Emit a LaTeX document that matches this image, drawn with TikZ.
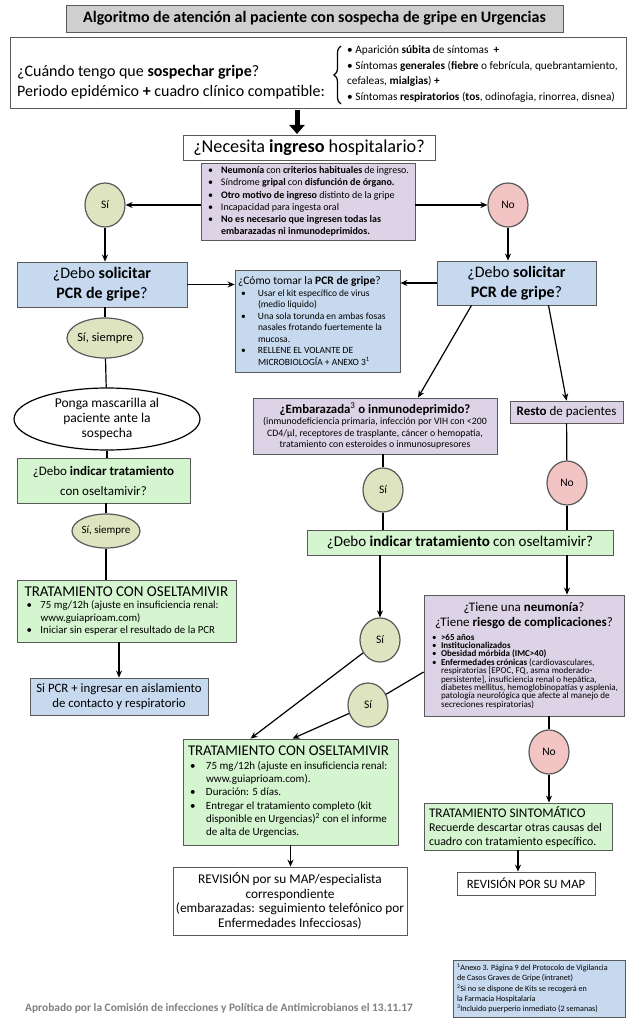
\documentclass[tikz,border=0pt]{standalone}
\usepackage{fontspec}
\setmainfont{Carlito}
\usetikzlibrary{arrows.meta,shapes.geometric,decorations.pathreplacing}
\definecolor{azul}{HTML}{C6D9EE}
\definecolor{lila}{HTML}{DCD4E6}
\definecolor{verde}{HTML}{D5F4D0}
\definecolor{oliva}{HTML}{DEE4BF}
\definecolor{rosa}{HTML}{F2C4C4}
\definecolor{gris}{HTML}{CFCFCF}
\definecolor{borde}{HTML}{5A5A5A}
\newcommand{\bul}[3][1pt]{\par\hangindent=#2\hangafter=1\noindent\hbox to #2{\hskip#1\textbullet\hfil}#3}
\newcommand{\lista}[2]{\begin{minipage}{#1}\raggedright\setlength{\parskip}{0pt}#2\end{minipage}}
\tikzset{
  caja/.style={draw=borde, line width=0.8pt, inner sep=0pt, align=center},
  dim/.style 2 args={minimum width=#1, minimum height=#2},
  si/.style={ellipse, draw=borde, line width=1.2pt, fill=oliva, minimum width=40, minimum height=44, inner sep=0pt, font=\fontsize{11.5}{13}\selectfont},
  no/.style={si, fill=rosa},
  flecha/.style={line width=1.2pt, -{Stealth[length=7pt,width=6pt]}},
  linea/.style={line width=1.2pt},
}
\begin{document}
\begin{tikzpicture}[x=1pt,y=-1pt]
\useasboundingbox (0,0) rectangle (634,1024);
\fill[white] (0,0) rectangle (634,1024);
\node[caja, fill=gris, dim={497}{27}, font=\fontsize{16}{18}\selectfont\bfseries] (titulo) at (314.5,18.5) {Algoritmo de atención al paciente con sospecha de gripe en Urgencias};
\node[caja, dim={616}{71}] (sospecha) at (318,72.5) {};
\node[anchor=west, align=left, inner sep=0pt, font=\fontsize{16}{20}\selectfont] (pregunta) at (17,82) {¿Cuándo tengo que \textbf{sospechar gripe}?\\Periodo epidémico \textbf{+} cuadro clínico compatible:};
\node[anchor=west, align=left, inner sep=0pt, font=\fontsize{11.3}{15.7}\selectfont] (sintomas) at (347,74) {\textbullet{} Aparición \textbf{súbita} de síntomas\ \ \textbf{+}\\\textbullet{} Síntomas \textbf{generales} (\textbf{fiebre} o febrícula, quebrantamiento,\\cefaleas, \textbf{mialgias}) \textbf{+}\\\textbullet{} Síntomas \textbf{respiratorios} (\textbf{tos}, odinofagia, rinorrea, disnea)};
\draw[line width=1.2pt, decorate, decoration={brace, amplitude=7pt}] (341,104) -- (341,46);
\coordinate (bajada) at (297,110);
\draw[line width=5pt, -{Triangle[length=9pt,width=15pt]}] (bajada) -- (bajada |- 0,134);
\node[caja, fill=white, dim={252}{25}, font=\fontsize{18.2}{20}\selectfont] (ingreso) at (309,147.5) {¿Necesita \textbf{ingreso} hospitalario?};
\node[caja, fill=lila, inner xsep=6pt, minimum height=77, font=\fontsize{10}{12.2}\selectfont] (criterios) at (308,201.5) {\lista{202pt}{\bul{14pt}{\textbf{Neumonía} con \textbf{criterios habituales} de ingreso.}\bul{14pt}{Síndrome \textbf{gripal} con \textbf{disfunción de órgano.}}\bul{14pt}{\textbf{Otro motivo de ingreso} distinto de la gripe}\bul{14pt}{Incapacidad para ingesta oral}\bul{14pt}{\textbf{No es necesario que ingresen todas las\newline embarazadas ni inmunodeprimidos.}}}};
\node[si] (siA) at (105,205) {Sí};
\node[no] (noA) at (508,205) {No};
\node[caja, fill=azul, dim={170}{45}, font=\fontsize{16}{20}\selectfont] (pcrL) at (102,284.5) {¿Debo \textbf{solicitar}\\\textbf{PCR de gripe}?};
\node[caja, fill=azul, dim={159}{44}, font=\fontsize{16}{20}\selectfont] (pcrR) at (516.5,283) {¿Debo \textbf{solicitar}\\\textbf{PCR de gripe}?};
\node[caja, fill=azul, inner xsep=3pt, minimum height=102, font=\fontsize{9.5}{11.5}\selectfont] (pcrinfo) at (317.5,321) {\lista{159pt}{{\fontsize{11.5}{13}\selectfont ¿Cómo tomar la \textbf{PCR de gripe}?\par}\bul[3pt]{20pt}{Usar el kit específico de virus\newline (medio liquido)}\bul[3pt]{20pt}{Una sola torunda en ambas fosas\newline nasales frotando fuertemente la\newline mucosa.}\bul[3pt]{20pt}{RELLENE EL VOLANTE DE\newline MICROBIOLOGÍA + ANEXO 3\textsuperscript{1}}}};
\node[si, minimum width=76, minimum height=40] (siempreA) at (105,338) {\makebox[0pt]{\fontsize{12.5}{14}\selectfont Sí, siempre}};
\node[ellipse, draw=black, line width=1.2pt, fill=white, dim={186}{62}, inner sep=0pt, align=center, font=\fontsize{13.5}{15}\selectfont] (mascarilla) at (107,419) {Ponga mascarilla al\\paciente ante la\\sospecha};
\node[caja, fill=verde, dim={173}{45}, font=\fontsize{13}{20}\selectfont] (indicarL) at (103.5,480.5) {¿Debo \textbf{indicar tratamiento}\\con oseltamivir?};
\node[si, minimum width=68, minimum height=34] (siempreB) at (106,531) {\makebox[0pt]{\fontsize{11}{13}\selectfont Sí, siempre}};
\node[caja, fill=verde, inner xsep=7pt, minimum height=62, font=\fontsize{10.8}{12.5}\selectfont] (tratL) at (127,611) {\lista{205pt}{{\fontsize{15}{16}\selectfont TRATAMIENTO CON OSELTAMIVIR\par}\bul[2pt]{16pt}{75 mg/12h (ajuste en insuficiencia renal:\newline www.guiaprioam.com)}\bul[2pt]{16pt}{Iniciar sin esperar el resultado de la PCR}}};
\node[caja, fill=azul, dim={178}{37}, font=\fontsize{12.8}{15}\selectfont] (aislam) at (119,696.5) {Si PCR + ingresar en aislamiento\\de contacto y respiratorio};
\node[caja, fill=lila, dim={244}{56}, font=\fontsize{9.8}{11.5}\selectfont] (embarazada) at (375,426) {{\fontsize{12.8}{14}\selectfont\bfseries ¿Embarazada\textsuperscript{\mdseries 3} o inmunodeprimido?}\\(inmunodeficiencia primaria, infección por VIH con <200\\CD4/µl, receptores de trasplante, cáncer o hemopatía,\\tratamiento con esteroides o inmunosupresores};
\node[caja, fill=lila, dim={113}{22}, font=\fontsize{13}{15}\selectfont] (resto) at (566.5,412) {\textbf{Resto} de pacientes};
\node[no] (noB) at (567,483) {No};
\node[si] (siB) at (383,490) {Sí};
\node[caja, fill=verde, dim={306}{25}, font=\fontsize{15}{17}\selectfont] (indicarR) at (460,542.5) {¿Debo \textbf{indicar tratamiento} con oseltamivir?};
\node[si] (siC) at (380,640) {Sí};
\node[si] (siD) at (368,705) {Sí};
\node[caja, fill=lila, inner xsep=6pt, minimum height=121, font=\fontsize{9}{7.9}\selectfont] (neumonia) at (524,655.5) {\lista{188pt}{{\centering\fontsize{13}{15}\selectfont ¿Tiene una \textbf{neumonía}?\\¿Tiene \textbf{riesgo de complicaciones}?\par}\vspace{5pt}\bul[2pt]{11pt}{\textbf{>65 años}}\bul[2pt]{11pt}{\textbf{Institucionalizados}}\bul[2pt]{11pt}{\textbf{Obesidad mórbida (IMC>40)}}\bul[2pt]{11pt}{\textbf{Enfermedades crónicas} (cardiovasculares,\newline respiratorias [EPOC, FQ, asma moderado-\newline persistente], insuficiencia renal o hepática,\newline diabetes mellitus, hemoglobinopatías y asplenia,\newline patología neurológica que afecte al manejo de\newline secreciones respiratorias)}}};
\node[no] (noC) at (549,752) {No};
\node[caja, fill=verde, inner xsep=5pt, minimum height=106, font=\fontsize{11}{13.3}\selectfont] (tratR) at (290.5,792) {\lista{205pt}{{\fontsize{14.8}{16}\selectfont TRATAMIENTO CON OSELTAMIVIR\par}\bul[2pt]{18pt}{75 mg/12h (ajuste en insuficiencia renal:\newline www.guiaprioam.com).}\bul[2pt]{18pt}{Duración: 5 días.}\bul[2pt]{18pt}{Entregar el tratamiento completo (kit\newline disponible en Urgencias)\textsuperscript{2} con el informe\newline de alta de Urgencias.}}};
\node[caja, fill=verde, inner xsep=5pt, minimum height=47, font=\fontsize{11.9}{14}\selectfont] (sintom) at (518,826.5) {\lista{178pt}{{\fontsize{13.2}{15}\selectfont TRATAMIENTO SINTOMÁTICO\par}Recuerde descartar otras causas del\newline cuadro con tratamiento específico.}};
\node[caja, fill=white, dim={138}{23}, font=\fontsize{12.7}{14}\selectfont] (revMAP) at (526,883.5) {REVISIÓN POR SU MAP};
\node[caja, fill=white, dim={234}{68}, font=\fontsize{13.3}{14.7}\selectfont] (revEsp) at (290,901) {REVISIÓN por su MAP/especialista\\correspondiente\\(embarazadas: seguimiento telefónico por\\Enfermedades Infecciosas)};
\node[caja, fill=azul, inner xsep=4pt, minimum height=57, font=\fontsize{8.1}{10.3}\selectfont] (notas) at (539,988.5) {\lista{164pt}{\textsuperscript{1}Anexo 3. Página 9 del Protocolo de Vigilancia\newline de Casos Graves de Gripe (intranet)\newline \textsuperscript{2}Si no se dispone de Kits se recogerá en\newline la Farmacia Hospitalaria\newline \textsuperscript{3}Incluido puerperio inmediato (2 semanas)}};
\node[anchor=west, inner sep=0pt, text=gray, font=\fontsize{11.4}{13}\selectfont\bfseries] (aprobado) at (25,1008) {Aprobado por la Comisión de infecciones y Política de Antimicrobianos el 13.11.17};
\draw[flecha] (criterios.west |- siA) -- (siA);
\draw[flecha] (criterios.east |- noA) -- (noA);
\draw[flecha] (siA) -- (siA |- pcrL.north);
\draw[flecha] (noA) -- (noA |- pcrR.north);
\draw[flecha] (pcrL.east) -- (pcrL.east -| pcrinfo.west);
\draw[flecha] (pcrR.west) -- (pcrR.west -| pcrinfo.east);
\draw[linea] (pcrL.south -| siempreA) -- (siempreA);
\draw[linea] (siempreA) -- (mascarilla);
\draw[linea] (mascarilla) -- (mascarilla |- indicarL.north);
\draw[linea] (indicarL.south -| siempreB) -- (siempreB);
\draw[linea] (siempreB) -- (siempreB |- tratL.north);
\draw[flecha] (tratL.south -| aislam) -- (aislam);
\draw[flecha] ([xshift=-45pt]pcrR.south) -- ([xshift=43pt]embarazada.north);
\draw[flecha] ([xshift=32pt]pcrR.south) -- (resto.north);
\draw[linea] (resto) -- (noB);
\draw[linea] (noB) -- (noB |- indicarR.north);
\draw[linea] (embarazada.south -| siB) -- (siB);
\draw[linea] (siB) -- (siB |- indicarR.north);
\draw[flecha] (indicarR.south -| siC) -- (siC);
\draw[flecha] (indicarR.south -| noB) -- (noB |- neumonia.north);
\draw[flecha] (siC) -- ([xshift=-40pt]tratR.north);
\draw[linea] ([yshift=-16.5pt]neumonia.west) -- (siD);
\draw[flecha] (siD) -- ([xshift=2pt]tratR.north);
\draw[linea] (neumonia.south -| noC) -- (noC);
\draw[flecha] (noC) -- (noC |- sintom.north);
\draw[flecha] (sintom.south) -- (sintom.south |- revMAP.north);
\draw[flecha] (tratR.south) -- (tratR.south |- revEsp.north);
\end{tikzpicture}
\end{document}
